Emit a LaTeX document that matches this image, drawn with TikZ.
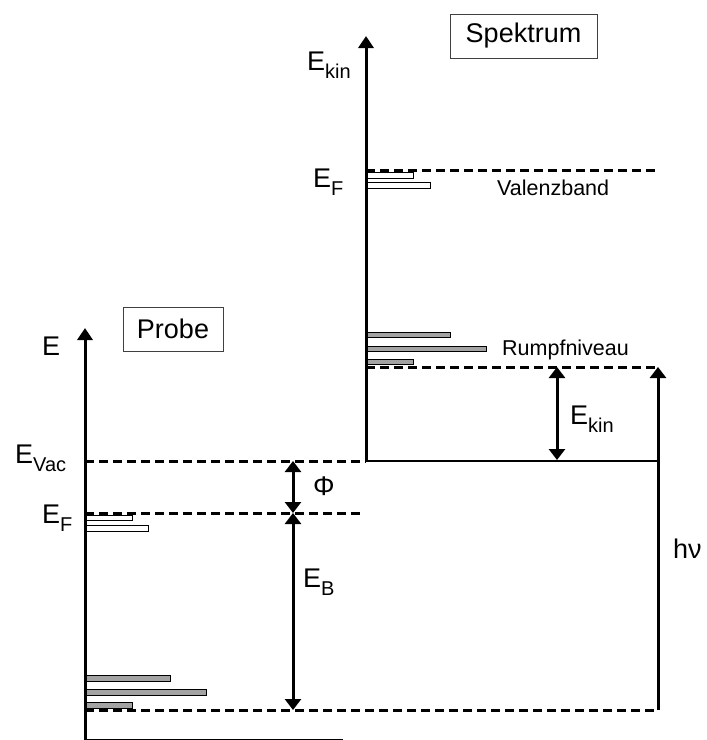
\documentclass[tikz,border=0pt]{standalone}
\usepackage{fontspec}
\setmainfont{Liberation Sans}
\usetikzlibrary{arrows.meta}
\newcommand\bigf{\fontsize{27}{30}\selectfont}
\newcommand\smallf{\fontsize{21.5}{24}\selectfont}
\newcommand\subf{\fontsize{20}{22}\selectfont}
\newcommand\sub[1]{\raisebox{-0.3em}{\subf #1}}
\begin{document}
\begin{tikzpicture}[x=1pt,y=-1pt,
  axis/.style={line width=3pt,-{Triangle[length=12pt,width=15pt]}},
  dashline/.style={line width=3pt,dash pattern=on 9pt off 5pt},
  solidline/.style={line width=2.5pt},
  dimarrow/.style={line width=3pt,{Triangle[length=11pt,width=16pt]}-{Triangle[length=11pt,width=16pt]}},
  uparrow/.style={line width=3pt,-{Triangle[length=11pt,width=16pt]}},
  greybar/.style={draw=black,line width=1pt,fill=black!36},
  whitebar/.style={draw=black,line width=1pt,fill=white},
  lbl/.style={inner sep=0pt,anchor=base west,font=\bigf},
  small/.style={inner sep=0pt,anchor=base west,font=\smallf},
  titlebox/.style={draw=black!75,line width=1pt,fill=white,font=\bigf,inner sep=0pt,minimum height=44pt}]
\useasboundingbox (0,0) rectangle (707,740);
% coordinates
\coordinate (L0) at (85,740);
\coordinate (Ltop) at (85,328);
\coordinate (R0) at (366,461);
\coordinate (Rtop) at (366,36);
\coordinate (vacL) at (85,461);
\coordinate (vacR) at (658,461);
\coordinate (efL1) at (85,513);
\coordinate (efL2) at (362,513);
\coordinate (bot1) at (85,710);
\coordinate (bot2) at (658,710);
\coordinate (core1) at (366,367);
\coordinate (core2) at (658,367);
\coordinate (efR1) at (366,170);
\coordinate (efR2) at (658,170);
\coordinate (base2) at (343,740);
\coordinate (phiT) at (293,461);
\coordinate (phiB) at (293,513);
\coordinate (ebB) at (293,710);
\coordinate (ekT) at (557,367);
\coordinate (ekB) at (557,460);
\coordinate (hvT) at (658,367);
\coordinate (hvB) at (658,710);
% bars left
\draw[greybar] (85,675) rectangle (170,681);
\draw[greybar] (85,689) rectangle (206,695);
\draw[greybar] (85,702) rectangle (132,708);
\draw[whitebar] (85,515) rectangle (132,520);
\draw[whitebar] (85,525) rectangle (148,531);
% bars right
\draw[whitebar] (366,172) rectangle (413,178);
\draw[whitebar] (366,182) rectangle (430,188);
\draw[greybar] (366,332) rectangle (450,337);
\draw[greybar] (366,346) rectangle (486,351);
\draw[greybar] (366,359) rectangle (413,364);
% level lines
\draw[dashline] (vacL) -- (R0);
\draw[solidline] (R0) -- (vacR);
\draw[dashline] (efL1) -- (efL2);
\draw[dashline] (bot1) -- (bot2);
\draw[dashline] (core1) -- (core2);
\draw[dashline] (efR1) -- (efR2);
\draw[solidline] (L0) -- (base2);
% axes
\draw[axis] (L0) -- (Ltop);
\draw[axis] (R0) -- (Rtop);
% arrows
\draw[dimarrow] (phiT) -- (phiB);
\draw[dimarrow] (phiB) -- (ebB);
\draw[dimarrow] (ekT) -- (ekB);
\draw[uparrow] (hvB) -- (hvT);
% labels
\node[lbl] (lE) at (42,355) {E};
\node[lbl] (lEkin1) at (307,70) {E\sub{kin}};
\node[lbl] (lEFr) at (313,187) {E\sub{F}};
\node[small] (lVal) at (497,195) {Valenzband};
\node[small] (lRumpf) at (502,355) {Rumpfniveau};
\node[lbl] (lEkin2) at (570,424) {E\sub{kin}};
\node[lbl] (lEvac) at (15,463) {E\sub{Vac}};
\node[lbl] (lEFl) at (42,523) {E\sub{F}};
\node[lbl] (lPhi) at (313,495) {Φ};
\node[lbl] (lEB) at (303,587) {E\sub{B}};
\node[lbl] (lhv) at (673,558) {hν};
\node[titlebox,minimum width=100pt] (probe) at (173,329) {Probe};
\node[titlebox,minimum width=147pt] (spek) at (523.5,36) {Spektrum};
\end{tikzpicture}
\end{document}
